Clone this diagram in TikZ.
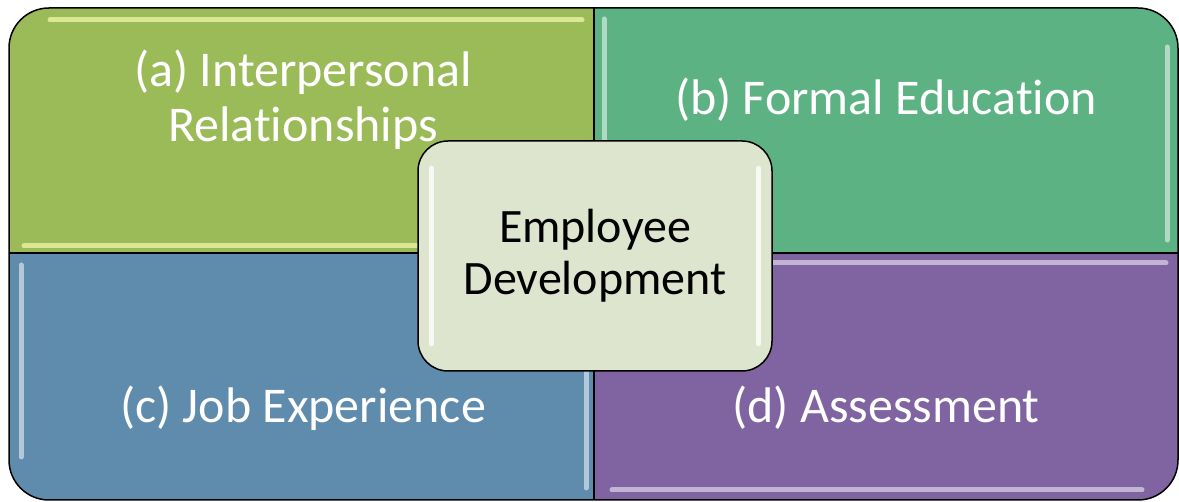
\documentclass[tikz,border=0pt]{standalone}
\usepackage{fontspec}
\setmainfont{Carlito}[Ligatures=NoCommon]
\usetikzlibrary{positioning}

\definecolor{greenq}{HTML}{9BBB59}
\definecolor{tealq}{HTML}{5DB283}
\definecolor{blueq}{HTML}{5F8BAD}
\definecolor{purpleq}{HTML}{8064A2}
\definecolor{corefill}{HTML}{DEE5CF}

\begin{document}
\begin{tikzpicture}[x=1pt,y=1pt,
  quadtext/.style={text=white,align=center,font=\fontsize{50}{55}\selectfont},
  shine/.style={line width=5pt,line cap=round,opacity=0.7},
  core/.style={draw=black,line width=1.5pt,fill=corefill,rounded corners=30pt,
    minimum width=354pt,minimum height=230pt,align=center,
    font=\fontsize{48}{52}\selectfont}]
 \useasboundingbox (0,0) rectangle (1179,502);

 % the four quarters
 \fill[greenq]  (9,249) -- (9,454) arc[start angle=180,end angle=90,radius=40] -- (594,494) -- (594,249) -- cycle;
 \fill[tealq]   (594,249) -- (594,494) -- (1138,494) arc[start angle=90,end angle=0,radius=40] -- (1178,249) -- cycle;
 \fill[blueq]   (9,249) -- (9,42) arc[start angle=180,end angle=270,radius=40] -- (594,2) -- (594,249) -- cycle;
 \fill[purpleq] (594,249) -- (594,2) -- (1138,2) arc[start angle=270,end angle=360,radius=40] -- (1178,249) -- cycle;

 % bevel light
 \draw[shine,greenq!20!yellow!35!white]  (50,482) -- (582,482) (24,256) -- (582,256);
 \draw[shine,tealq!25!white]   (604,483) -- (604,262) (1167,455) -- (1167,262);
 \draw[shine,blueq!25!white]   (21,237) -- (21,45) (586,237) -- (586,14);
 \draw[shine,purpleq!25!white] (606,239) -- (1166,239) (612,12) -- (1142,12);

 \draw[line width=1.5pt,rounded corners=40pt] (9,2) rectangle (1178,494);
 \draw[line width=1.5pt] (594,2) -- (594,494) (9,249) -- (1178,249);

 \node[quadtext] (qa) at (303,402) {(a) Interpersonal\\Relationships};
 \node[quadtext] (qb) at (886,402) {(b) Formal Education};
 \node[quadtext] (qc) at (303,94)  {(c) Job Experience};
 \node[quadtext] (qd) at (886,94)  {(d) Assessment};

 \node[core] (hub) at (595,246) {Employee\\Development};
 \draw[shine,white,opacity=0.8] ([xshift=14pt,yshift=-28pt]hub.north west) -- ([xshift=14pt,yshift=28pt]hub.south west)
                                ([xshift=-14pt,yshift=-28pt]hub.north east) -- ([xshift=-14pt,yshift=28pt]hub.south east);
\end{tikzpicture}
\end{document}
